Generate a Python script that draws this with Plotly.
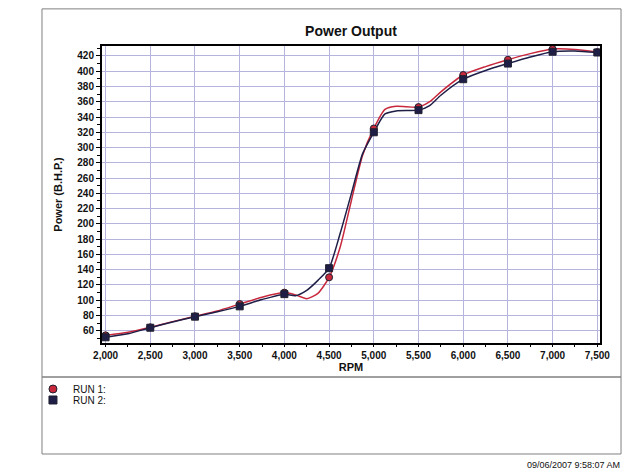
import plotly.graph_objects as go

# dyno readings (RPM vs brake horsepower)
rpm = [2000, 2250, 2500, 2750, 3000, 3250, 3500, 3750, 4000, 4125, 4250, 4375,
       4500, 4625, 4750, 4875, 5000, 5125, 5250, 5500, 5625, 5750, 6000, 6250,
       6500, 6750, 7000, 7250, 7500]
run1 = [54, 58, 64.5, 72, 79, 86, 95, 104, 110, 107, 102, 109,
        130, 170, 231, 290, 325, 350, 354, 353, 360, 373, 395, 406,
        415, 423, 429, 428.5, 425]
run2 = [51.5, 56, 64, 71.5, 78.5, 85, 92, 101, 108, 106, 113, 126,
        142, 188, 240, 292, 320, 344, 348, 349, 355, 368.5, 389.5, 401,
        410, 418.5, 425.5, 426.5, 424.5]

run_names = ["RUN 1:", "RUN 2:"]
y_ticks = list(range(60, 421, 20))

red = "#c8283c"
navy = "#1e1e46"
grid = "#b4b4dc"
font = "Liberation Sans, Arial, sans-serif"

fig = go.Figure()

runs = [(run1, red, "circle", run_names[0], "legend"),
        (run2, navy, "square", run_names[1], "legend2")]
for vals, col, sym, nm, lg in runs:
    fig.add_trace(go.Scatter(x=rpm, y=vals, mode="lines",
                             line=dict(color=col, width=1.5, shape="spline", smoothing=0.6),
                             showlegend=False, hoverinfo="skip"))
for vals, col, sym, nm, lg in runs:
    mx = [r for r in rpm if r % 500 == 0]
    my = [v for r, v in zip(rpm, vals) if r % 500 == 0]
    fig.add_trace(go.Scatter(x=mx, y=my, mode="markers", showlegend=False,
                             marker=dict(symbol=sym, size=7, color=col,
                                         line=dict(color="#202030", width=1))))
# legend entries (one legend each so they can sit close together)
for vals, col, sym, nm, lg in runs:
    fig.add_trace(go.Scatter(x=[None], y=[None], mode="markers", name=nm, legend=lg,
                             marker=dict(symbol=sym, size=8, color=col,
                                         line=dict(color="#202030", width=1))))

# outer frame and legend box
fig.add_shape(type="rect", xref="paper", yref="paper", x0=-0.1205, x1=1.0422,
              y0=-0.1145, y1=1.125, line=dict(color="#808080", width=1))
fig.add_shape(type="rect", xref="paper", yref="paper", x0=-0.1205, x1=1.0422,
              y0=-0.3737, y1=-0.1145, line=dict(color="#808080", width=1))

fig.add_annotation(text="09/06/2007 9:58:07 AM", xref="paper", yref="paper",
                   x=1.044, y=-0.411, xanchor="right", yanchor="middle",
                   showarrow=False, font=dict(size=9, color="#111111", family=font))

leg = dict(x=-0.1386, xanchor="left", yanchor="middle",
           font=dict(size=10, color="#111111"), bgcolor="rgba(0,0,0,0)",
           itemclick=False, borderwidth=0)

# page has an 8px body margin, so the figure is 8px smaller each way
fig.update_layout(
    width=632, height=464,
    margin=dict(l=94, r=40, t=38, b=129),
    paper_bgcolor="white", plot_bgcolor="white",
    font=dict(family=font, color="#111111"),
    title=dict(text="<b>Power Output</b>", x=0.5, xref="paper", y=0.9504, yref="container",
               xanchor="center", yanchor="middle", font=dict(size=14, color="#111111")),
    legend=dict(leg, y=-0.1549),
    legend2=dict(leg, y=-0.1919),
    xaxis=dict(range=[1960, 7530], dtick=500, tick0=2000, tickformat=",",
               showgrid=True, gridcolor=grid, gridwidth=1,
               showline=True, linecolor="black", linewidth=2, mirror=True,
               ticks="outside", ticklen=2, tickcolor="black",
               tickfont=dict(size=10, weight="bold"),
               minor=dict(dtick=250, tick0=2000, ticks="outside", ticklen=2,
                          tickcolor="black", showgrid=False),
               title=dict(text="<b>RPM</b>", font=dict(size=11), standoff=0),
               zeroline=False),
    yaxis=dict(range=[44, 433], tickvals=y_ticks,
               showgrid=True, gridcolor=grid, gridwidth=1,
               showline=True, linecolor="black", linewidth=2, mirror=True,
               ticks="outside", ticklen=4, tickcolor="black",
               tickfont=dict(size=10, weight="bold"),
               minor=dict(dtick=10, tick0=60, ticks="outside", ticklen=3,
                          tickcolor="black", showgrid=False),
               title=dict(text="<b>Power (B.H.P.)</b>", font=dict(size=11), standoff=12),
               zeroline=False),
)

fig.write_html("out.html")
